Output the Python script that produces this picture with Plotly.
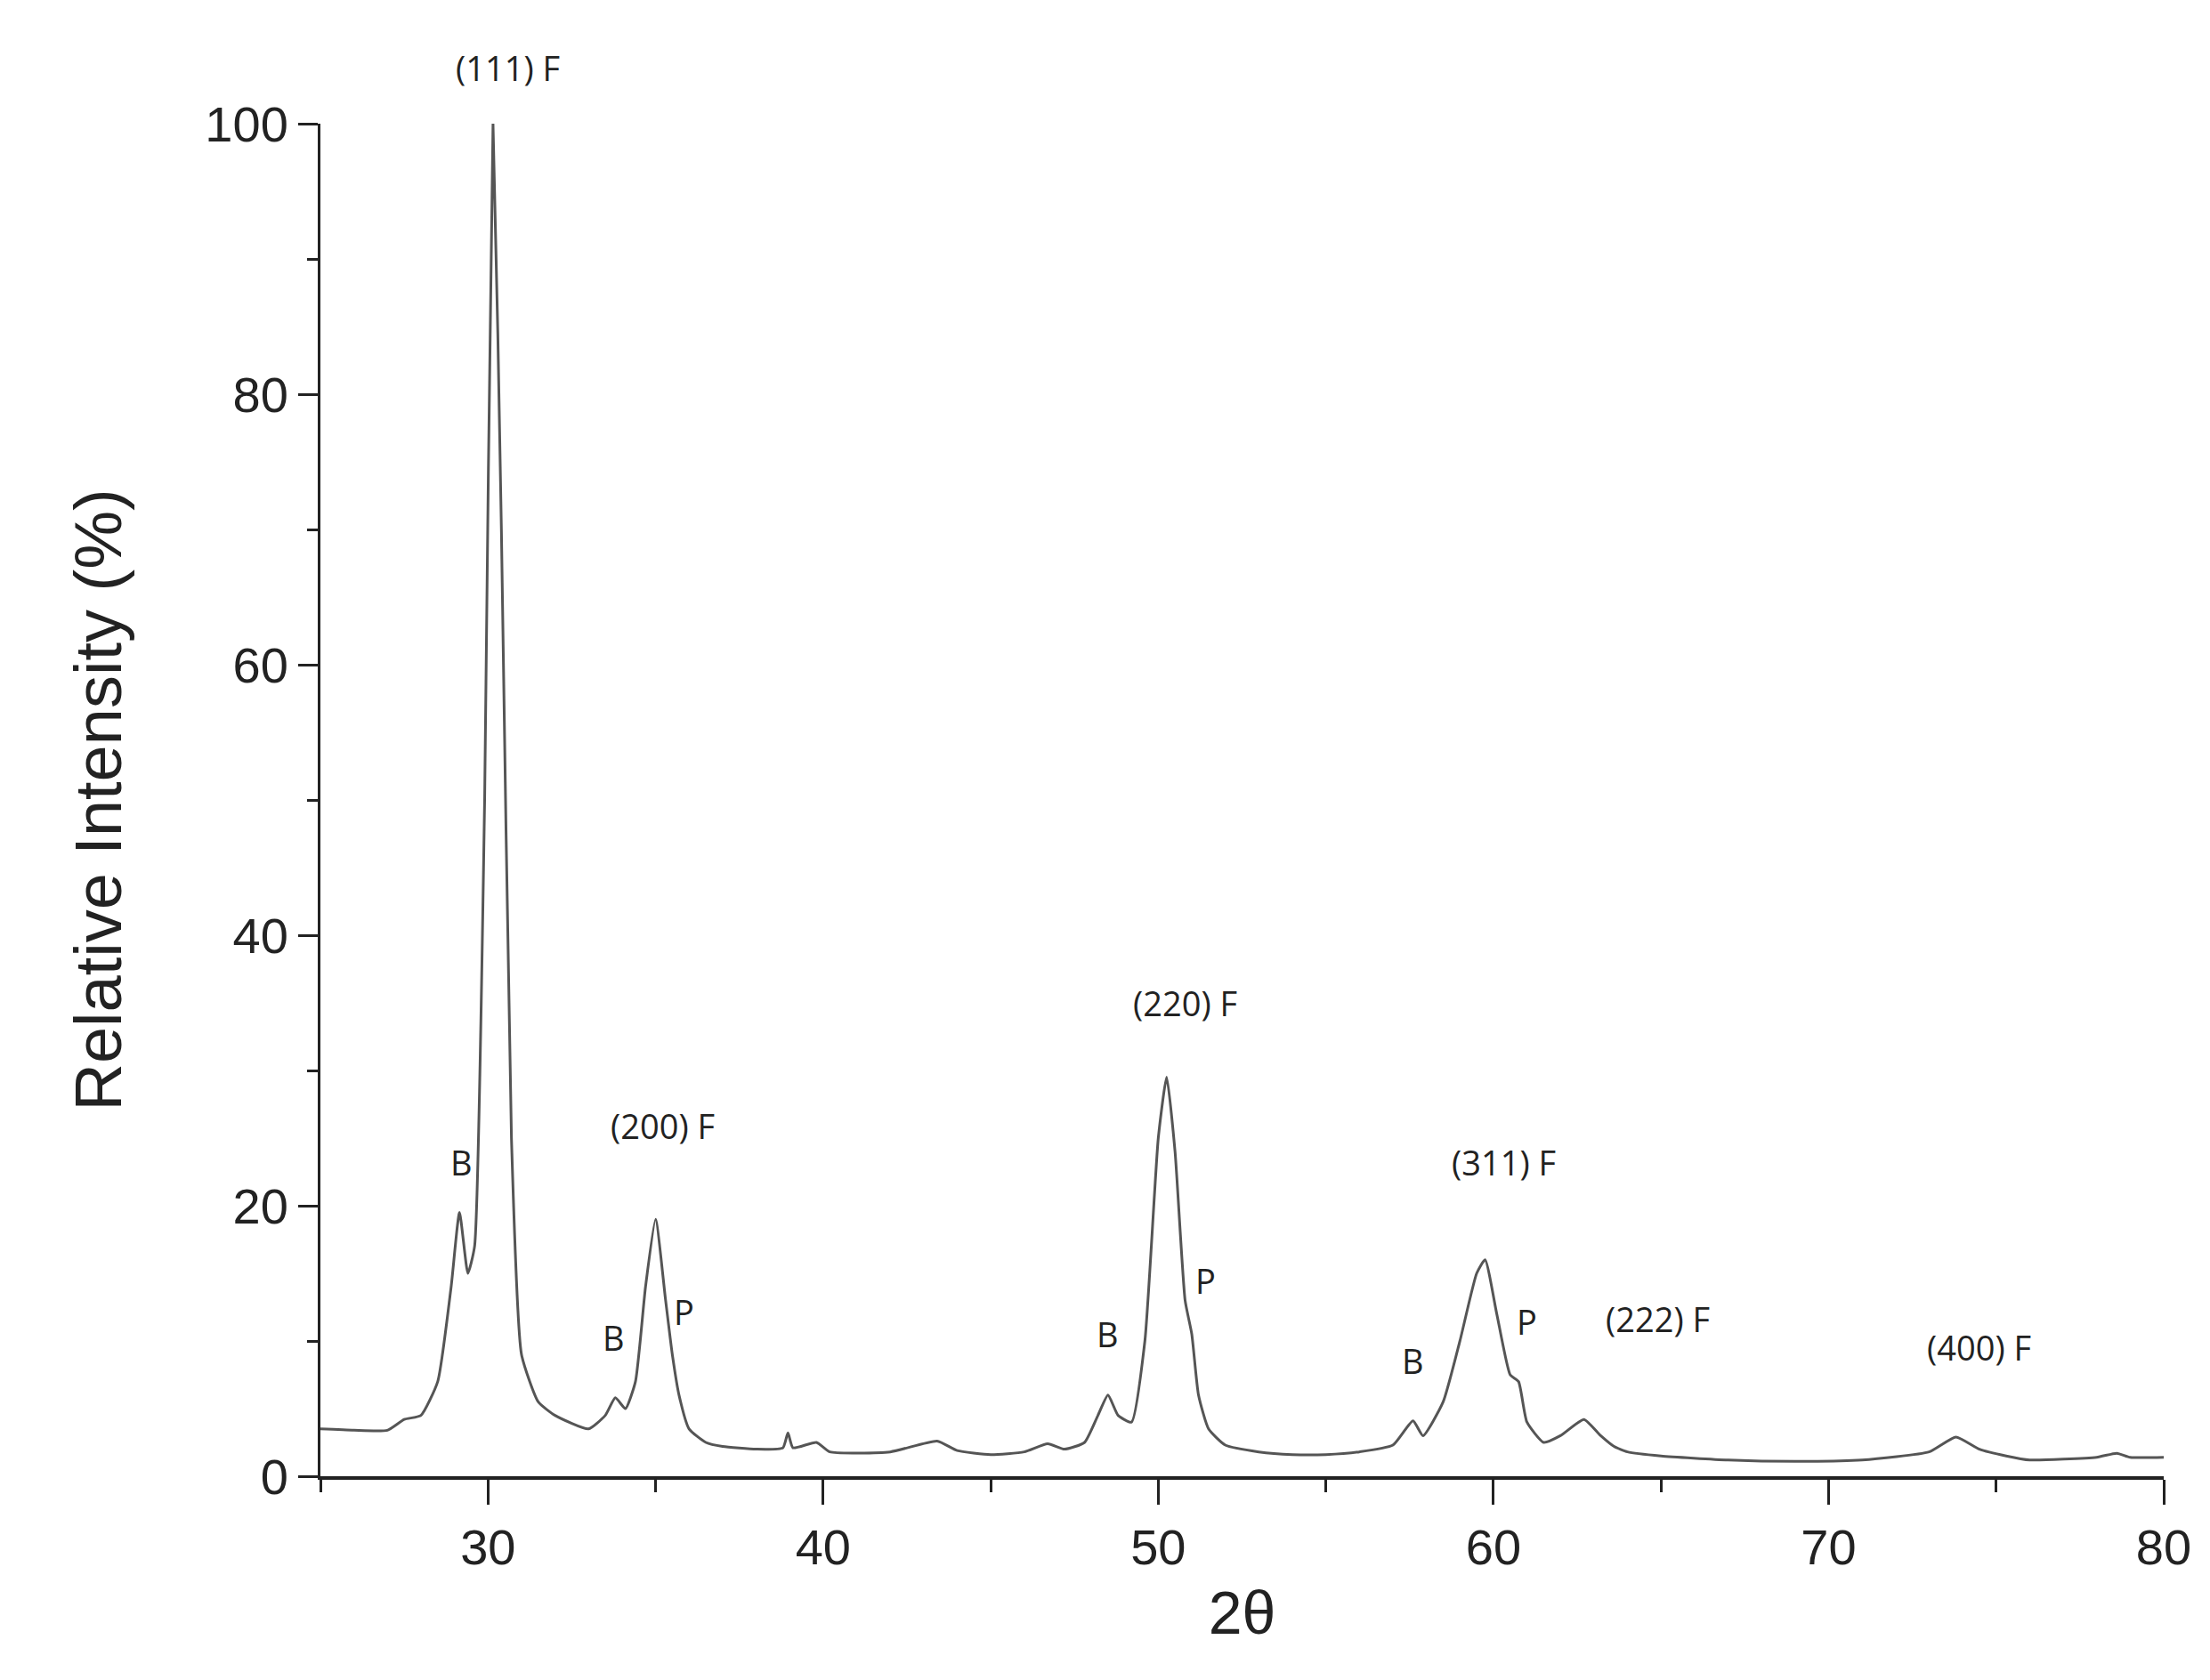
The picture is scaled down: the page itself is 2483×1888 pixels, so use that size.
import plotly.graph_objects as go

two_theta = [25, 26, 27, 27.5, 28, 28.5, 28.9, 29.15, 29.4, 29.6, 29.9, 30.15, 30.4, 30.7, 31, 31.5, 32, 33, 33.5, 33.8, 34.1, 34.4, 34.7, 35.0, 35.3, 35.5, 35.7, 36, 36.5, 37, 38, 38.8, 38.95, 39.1, 39.8, 40.2, 42, 43.4, 44, 45, 46, 46.7, 47.2, 47.8, 48.2, 48.5, 48.8, 49.2, 49.6, 50.0, 50.25, 50.5, 50.8, 51.0, 51.2, 51.5, 52, 53, 54, 55, 56, 57, 57.6, 57.9, 58.5, 59, 59.5, 59.75, 60.1, 60.5, 60.75, 61, 61.5, 62, 62.7, 63.2, 63.6, 64, 65, 67, 69, 71, 73, 73.8, 74.5, 75.3, 76, 78, 78.6, 79, 80]
intensity = [3.5, 3.4, 3.4, 4.2, 4.5, 7, 14, 19.5, 15, 17, 50, 100, 70, 25, 9, 5.5, 4.5, 3.5, 4.5, 5.8, 5, 7, 14, 19, 13, 9, 6, 3.5, 2.5, 2.2, 2, 2.1, 3.2, 2.1, 2.5, 1.8, 1.8, 2.6, 1.9, 1.6, 1.8, 2.4, 2, 2.5, 4.5, 6, 4.5, 4, 10, 25, 29.5, 24, 13, 10.5, 6, 3.5, 2.3, 1.8, 1.6, 1.6, 1.8, 2.3, 4.1, 3, 5.5, 10, 15, 16, 12, 7.5, 7, 4, 2.5, 3, 4.2, 3, 2.2, 1.8, 1.5, 1.2, 1.1, 1.2, 1.8, 2.9, 2, 1.5, 1.2, 1.4, 1.7, 1.4, 1.4]

label_text = ["(111) F", "B", "(200) F", "B", "P", "(220) F", "B", "P", "(311) F", "B", "P", "(222) F", "(400) F"]
label_x = [30.6, 29.2, 35.2, 33.75, 35.85, 50.8, 48.5, 51.4, 60.3, 57.6, 61.0, 64.9, 74.5]
label_y = [106, 21.4, 24.1, 8.4, 10.3, 35, 8.7, 12.6, 21.4, 6.7, 9.6, 9.8, 7.7]

fig = go.Figure()
fig.add_trace(go.Scatter(x=two_theta, y=intensity, mode="lines",
                         line=dict(color="#555555", width=3, shape="spline", smoothing=0.5),
                         showlegend=False))
for t, x, y in zip(label_text, label_x, label_y):
    fig.add_annotation(x=x, y=y / 100, yref="paper", text=t, showarrow=False,
                       font=dict(family="Open Sans", size=38, color="#222"))

fig.update_layout(
    width=2483, height=1888, plot_bgcolor="white", paper_bgcolor="white",
    margin=dict(l=352, r=60, t=131, b=237),
    font=dict(family="Liberation Sans", color="#222"),
)
fig.update_xaxes(range=[25, 80], tickvals=[30, 40, 50, 60, 70, 80], showline=True, linecolor="#222",
                 linewidth=4, ticks="outside", ticklen=28, tickwidth=3, tickcolor="#222",
                 tickfont=dict(size=56), showgrid=False, zeroline=False,
                 minor=dict(tickvals=[25, 35, 45, 55, 65, 75], ticks="outside", ticklen=14, tickwidth=3, tickcolor="#222"),
                 title=dict(text="2θ", font=dict(size=68), standoff=20))
fig.update_yaxes(range=[0, 100], tickvals=[0, 20, 40, 60, 80, 100], showline=True, linecolor="#222",
                 linewidth=3, ticks="outside", ticklen=22, tickwidth=3, tickcolor="#222",
                 tickfont=dict(size=56), showgrid=False, zeroline=False,
                 minor=dict(tickvals=[10, 30, 50, 70, 90], ticks="outside", ticklen=12, tickwidth=3, tickcolor="#222"),
                 title=dict(text="Relative Intensity (%)", font=dict(size=74), standoff=70))
fig.write_html("out.html")
